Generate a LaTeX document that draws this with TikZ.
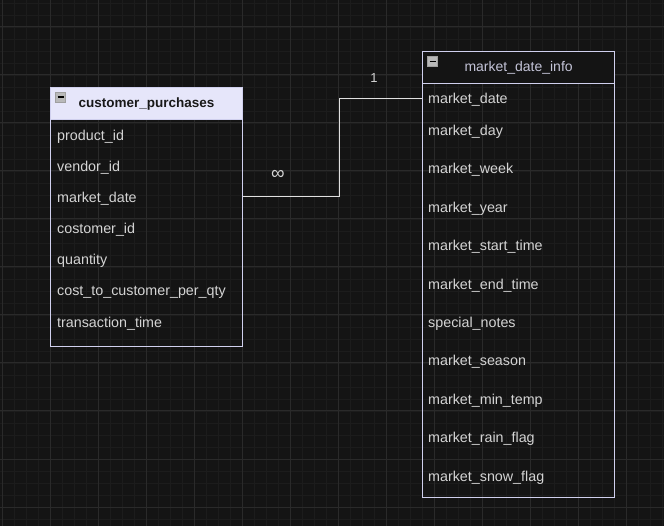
\documentclass[tikz,border=0pt]{standalone}
\usepackage{fontspec}
\setmainfont{Liberation Sans}
\usetikzlibrary{positioning}
\definecolor{canvas}{HTML}{141414}
\definecolor{gridminor}{HTML}{1C1C1C}
\definecolor{gridmajor}{HTML}{2A2A2A}
\definecolor{edgelav}{HTML}{D0D0EE}
\definecolor{headlav}{HTML}{E6E6FA}
\definecolor{fieldtxt}{HTML}{D4D4D4}
\definecolor{titletxt}{HTML}{C4C4D8}
\tikzset{
	tablebox/.style={draw=edgelav, line width=1.2pt, inner sep=0pt, anchor=north west, minimum width=192pt},
	headbox/.style={draw=edgelav, line width=1.2pt, inner sep=0pt, anchor=north west, minimum width=192pt, minimum height=32pt},
	fieldnode/.style={anchor=base west, inner sep=0pt, text=fieldtxt, font=\fontsize{14.3}{16}\selectfont},
	minusbox/.style={draw=gray!75, fill=gray!55, line width=0.8pt, minimum size=10pt, inner sep=0pt,
		path picture={\draw[black, line width=1.2pt] ([xshift=2pt]path picture bounding box.west) -- ([xshift=-2pt]path picture bounding box.east);}},
	relline/.style={draw=white!88!black, line width=1.3pt},
	cardnode/.style={text=fieldtxt, inner sep=0pt, font=\fontsize{13}{15}\selectfont}
}

\begin{document}
\begin{tikzpicture}[x=1pt, y=-1pt]
	% canvas and grid
	\fill[canvas] (0,0) rectangle (664,526);
	\useasboundingbox (0,0) rectangle (664,526);
	\foreach \gx in {2,14,...,662} \draw[gridminor, line width=0.8pt] (\gx,0) -- (\gx,526);
	\foreach \gy in {3,15,...,526} \draw[gridminor, line width=0.8pt] (0,\gy) -- (664,\gy);
	\foreach \gx in {2,50,...,662} \draw[gridmajor, line width=1pt] (\gx,0) -- (\gx,526);
	\foreach \gy in {27,75,...,526} \draw[gridmajor, line width=1pt] (0,\gy) -- (664,\gy);
	
	% customer_purchases
	\node[tablebox, minimum height=259pt] at (50,87) (cpbox) {};
	\node[headbox, fill=headlav] at (50,87) (cphead) {};
	\node[minusbox] at (60.5,97) (cpminus) {};
	\node[text=black!90, font=\fontsize{13.5}{16}\bfseries] at (cphead.center) (cptitle) {customer\_purchases};
	\node[fieldnode] at (57,140.5) (cpprod) {product\_id};
	\node[fieldnode] at (57,171.5) (cpvend) {vendor\_id};
	\node[fieldnode] at (57,202.5) (cpdate) {market\_date};
	\node[fieldnode] at (57,233.5) (cpcust) {costomer\_id};
	\node[fieldnode] at (57,265) (cpqty) {quantity};
	\node[fieldnode] at (57,296) (cpcost) {cost\_to\_customer\_per\_qty};
	\node[fieldnode] at (57,327.5) (cptime) {transaction\_time};
	
	% market_date_info
	\node[tablebox, minimum height=446pt] at (422,51) (mdbox) {};
	\node[headbox, fill=canvas] at (422,51) (mdhead) {};
	\node[minusbox] at (432.5,61.5) (mdminus) {};
	\node[text=titletxt, font=\fontsize{14}{16}\selectfont] at (mdhead.center) (mdtitle) {market\_date\_info};
	\node[fieldnode] at (428,104) (mddate) {market\_date};
	\node[fieldnode] at (428,135.5) (mdday) {market\_day};
	\node[fieldnode] at (428,173.5) (mdweek) {market\_week};
	\node[fieldnode] at (428,212.5) (mdyear) {market\_year};
	\node[fieldnode] at (428,250.5) (mdstart) {market\_start\_time};
	\node[fieldnode] at (428,289.5) (mdend) {market\_end\_time};
	\node[fieldnode] at (428,327.5) (mdnotes) {special\_notes};
	\node[fieldnode] at (428,365.5) (mdseason) {market\_season};
	\node[fieldnode] at (428,404.5) (mdmin) {market\_min\_temp};
	\node[fieldnode] at (428,442.5) (mdrain) {market\_rain\_flag};
	\node[fieldnode] at (428,481) (mdsnow) {market\_snow\_flag};
	
	% relation
	\draw[relline] ([yshift=2pt]cpbox.east |- cpdate) -- ++(96,0) |- ([yshift=2pt]mdbox.west |- mddate);
	\node[cardnode, font=\fontsize{19}{20}\selectfont] at (278,175) (manyend) {∞};
	\node[cardnode] at (374,78) (oneend) {1};
\end{tikzpicture}
\end{document}
